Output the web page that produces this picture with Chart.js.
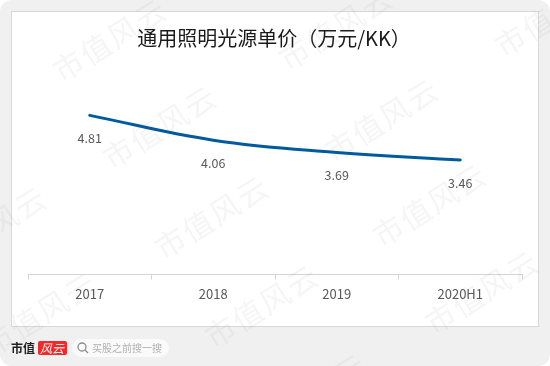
<!DOCTYPE html>
<html><head><meta charset="utf-8">
<style>html,body{margin:0;padding:0;background:#fff}#wrap{width:550px;height:366px}</style>
<script src="https://cdn.jsdelivr.net/npm/chart.js@4"></script>
</head><body><div id="wrap"><canvas id="c" width="550" height="366"></canvas></div>
<script>
const categories = ["2017","2018","2019","2020H1"];
const prices = [4.81,4.06,3.69,3.46];
const titleText = "通用照明光源单价（万元/KK）";
const watermark = "市值风云";
const watermarkCenters = [[110,40],[160,127],[382,120],[552,15],[336,28],[212,217],[-10,228],[40,314],[262,306],[430,205],[482,292],[310,395]];
const cjk = '"Noto Sans CJK SC","Noto Sans",sans-serif';

function rr(ctx,x,y,w,h,r){ctx.beginPath();ctx.roundRect(x,y,w,h,r);}

const frame = {
  id:'frame',
  beforeDraw(chart){
    const ctx = chart.ctx;
    ctx.save();
    ctx.fillStyle='#fff';ctx.fillRect(0,0,550,366);
    ctx.fillStyle='#f0f0f0';rr(ctx,0,0,550,366,12);ctx.fill();
    ctx.fillStyle='#fff';ctx.fillRect(12,12,526,314);
    ctx.strokeStyle='#d8d8d8';ctx.lineWidth=1;ctx.strokeRect(11.5,11.5,527,315);
    ctx.restore();
  },
  afterDraw(chart){
    const ctx = chart.ctx;
    ctx.save();
    // data labels
    ctx.fillStyle='#595959';ctx.font='12.5px '+cjk;ctx.textAlign='center';ctx.textBaseline='middle';
    chart.getDatasetMeta(0).data.forEach((p,i)=>{ctx.fillText(prices[i].toFixed(2),p.x,p.y+23);});
    // title
    ctx.fillStyle='#1a1a1a';ctx.font='20px '+cjk;
    ctx.fillText(titleText,274,38);
    // logo
    ctx.textAlign='left';ctx.fillStyle='#222';ctx.font='bold 12px "Noto Sans CJK SC",serif';
    ctx.fillText("市值",11,348);
    ctx.fillStyle='#ee2a2a';rr(ctx,38,341,29,14,2);ctx.fill();
    ctx.fillStyle='#fff';ctx.font='italic 12px '+cjk;ctx.fillText("风云",40,348);
    ctx.fillStyle='#fafafa';rr(ctx,72,339,97,18,9);ctx.fill();
    ctx.strokeStyle='#8c8c8c';ctx.lineWidth=1.3;
    ctx.beginPath();ctx.arc(82,347,4,0,Math.PI*2);ctx.stroke();
    ctx.beginPath();ctx.moveTo(85,350);ctx.lineTo(88,353);ctx.stroke();
    ctx.fillStyle='#b0b0b0';ctx.font='10px '+cjk;ctx.fillText("买股之前搜一搜",92,348);
    // watermarks
    ctx.fillStyle='rgba(120,120,120,0.075)';ctx.font='30px '+cjk;ctx.textAlign='center';
    watermarkCenters.forEach(([x,y])=>{
      ctx.save();ctx.translate(x,y);ctx.rotate(-32*Math.PI/180);
      ctx.letterSpacing='2px';
      ctx.fillText(watermark,0,0);ctx.restore();
    });
    ctx.restore();
  }
};

new Chart(document.getElementById('c'),{
  type:'line',
  data:{labels:categories,datasets:[{data:prices,borderColor:'#005a9e',borderWidth:3,tension:0.4,pointRadius:0,borderCapStyle:'round',fill:false}]},
  plugins:[frame],
  options:{
    responsive:false,animation:false,
    layout:{padding:{left:28,right:28,top:76,bottom:57}},
    plugins:{legend:{display:false},tooltip:{enabled:false}},
    scales:{
      x:{offset:true,
        grid:{drawOnChartArea:false,drawTicks:true,tickLength:5,color:'#d4d4d4',offset:true},
        border:{color:'#d4d4d4',width:1},
        ticks:{color:'#595959',font:{size:13,family:cjk},padding:7,maxRotation:0}},
      y:{display:false,min:0,max:6}
    }
  }
});
</script></body></html>
